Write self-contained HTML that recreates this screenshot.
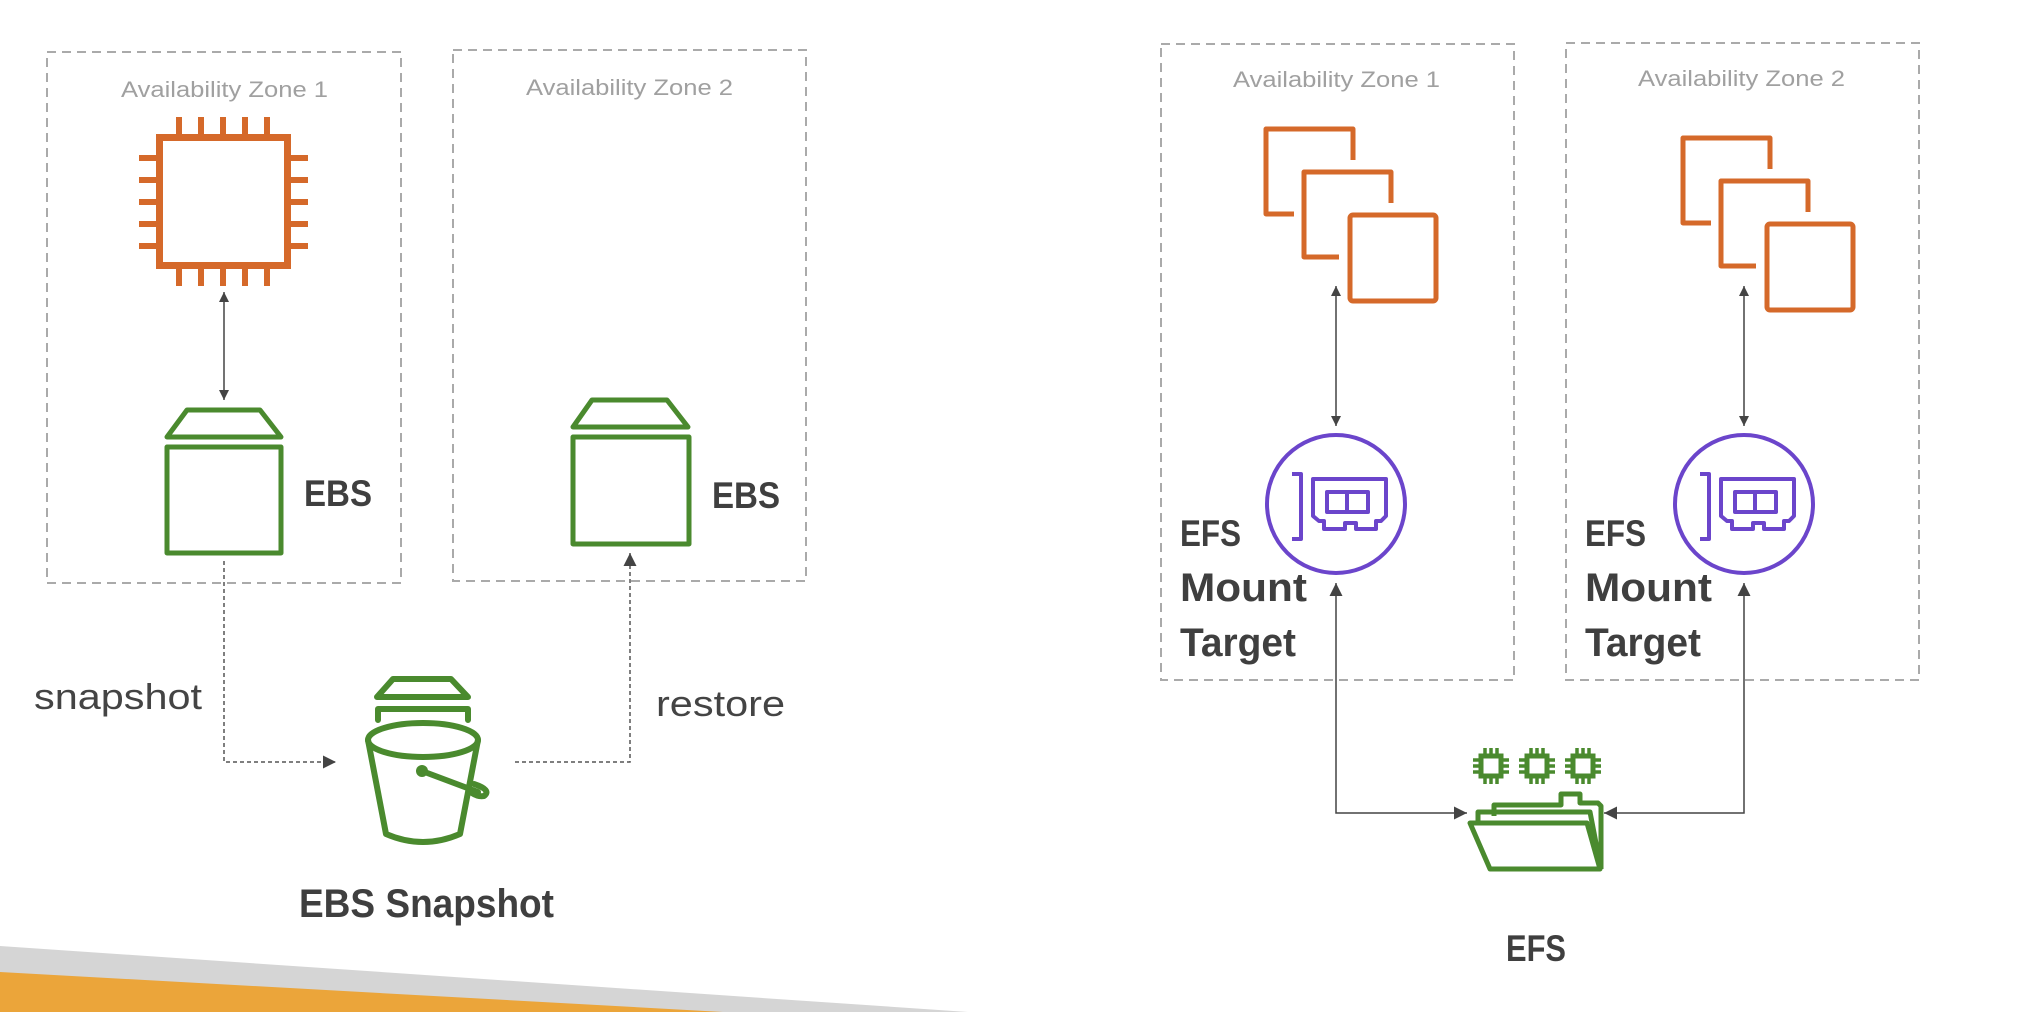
<!DOCTYPE html>
<html><head><meta charset="utf-8"><style>
html,body{margin:0;padding:0;background:#fff;}
svg{display:block;}
</style></head><body>
<svg width="2026" height="1012" viewBox="0 0 2026 1012" xmlns="http://www.w3.org/2000/svg">
<defs>
<marker id="ah" viewBox="0 0 10 10" refX="10" refY="5" markerWidth="10" markerHeight="10" markerUnits="userSpaceOnUse" orient="auto-start-reverse">
<path d="M0,0 L10,5 L0,10 z" fill="#444"/>
</marker>
<marker id="ah2" viewBox="0 0 10 10" refX="10" refY="5" markerWidth="13" markerHeight="13" markerUnits="userSpaceOnUse" orient="auto-start-reverse">
<path d="M0,0 L10,5 L0,10 z" fill="#444"/>
</marker>
</defs>

<polygon points="0,946 968,1012 0,1012" fill="#D5D5D5"/>
<polygon points="0,972 723,1012 0,1012" fill="#EBA53A"/>

<g fill="none" stroke="#AAAAAA" stroke-width="2" stroke-dasharray="9,6">
<rect x="47" y="52" width="354" height="531"/>
<rect x="453" y="50" width="353" height="531"/>
<rect x="1161" y="44" width="353" height="636"/>
<rect x="1566" y="43" width="353" height="637"/>
</g>

<g font-family="Liberation Sans, sans-serif" fill="#A0A0A0" font-size="22">
<text x="121" y="97" textLength="207" lengthAdjust="spacingAndGlyphs">Availability Zone 1</text>
<text x="526" y="95" textLength="207" lengthAdjust="spacingAndGlyphs">Availability Zone 2</text>
<text x="1233" y="87" textLength="207" lengthAdjust="spacingAndGlyphs">Availability Zone 1</text>
<text x="1638" y="86" textLength="207" lengthAdjust="spacingAndGlyphs">Availability Zone 2</text>
</g>

<g stroke="#D5692A" stroke-width="7" fill="none">
<rect x="159.5" y="137.5" width="128" height="128"/>
<path d="M179,117V137 M201,117V137 M223,117V137 M245,117V137 M267,117V137
M179,266V286 M201,266V286 M223,266V286 M245,266V286 M267,266V286
M139,158H159 M139,180H159 M139,202H159 M139,224H159 M139,246H159
M288,158H308 M288,180H308 M288,202H308 M288,224H308 M288,246H308" stroke-width="6"/>
</g>

<g stroke="#4A8A2E" stroke-width="5" fill="none" stroke-linejoin="round">
<path d="M187,410 H260 L281,437 H167 Z"/>
<rect x="167" y="447" width="114" height="106"/>
<path d="M592,400 H667 L688,427 H573 Z"/>
<rect x="573" y="437" width="116" height="107"/>
</g>

<g font-family="Liberation Sans, sans-serif" font-weight="bold" fill="#3F3F3F" font-size="40">
<text x="304" y="506" textLength="68" lengthAdjust="spacingAndGlyphs" font-size="37">EBS</text>
<text x="712" y="508" textLength="68" lengthAdjust="spacingAndGlyphs" font-size="37">EBS</text>
<text x="299" y="917" textLength="255" lengthAdjust="spacingAndGlyphs">EBS Snapshot</text>
<text x="1506" y="961" textLength="60" lengthAdjust="spacingAndGlyphs" font-size="37">EFS</text>
<text x="1180" y="546" textLength="61" lengthAdjust="spacingAndGlyphs" font-size="37">EFS</text>
<text x="1180" y="601" textLength="127" lengthAdjust="spacingAndGlyphs">Mount</text>
<text x="1180" y="656" textLength="116" lengthAdjust="spacingAndGlyphs">Target</text>
<text x="1585" y="546" textLength="61" lengthAdjust="spacingAndGlyphs" font-size="37">EFS</text>
<text x="1585" y="601" textLength="127" lengthAdjust="spacingAndGlyphs">Mount</text>
<text x="1585" y="656" textLength="116" lengthAdjust="spacingAndGlyphs">Target</text>
</g>
<g font-family="Liberation Sans, sans-serif" fill="#444" font-size="36">
<text x="34" y="709" textLength="168" lengthAdjust="spacingAndGlyphs">snapshot</text>
<text x="656" y="716" textLength="129" lengthAdjust="spacingAndGlyphs">restore</text>
</g>

<line x1="224" y1="292" x2="224" y2="400" stroke="#444" stroke-width="1.5" marker-start="url(#ah)" marker-end="url(#ah)"/>
<polyline points="224,561 224,762 336,762" fill="none" stroke="#555" stroke-width="1.5" stroke-dasharray="4,3" marker-end="url(#ah2)"/>
<polyline points="515,762 630,762 630,553" fill="none" stroke="#555" stroke-width="1.5" stroke-dasharray="4,3" marker-end="url(#ah2)"/>

<g stroke="#4A8A2E" stroke-width="6" fill="none" stroke-linejoin="round" stroke-linecap="round">
<path d="M393,679 H451 L468,697 H377 Z"/>
<path d="M378,720 V709 H468 V720"/>
<ellipse cx="423" cy="740" rx="55" ry="17"/>
<path d="M368,740 L386,834 Q423,850 460,834 L478,740"/>
<path d="M422,771 L478,792" />
<path d="M474,784 Q492,790 484,796 Q478,797 472,793"/>
</g>
<circle cx="422" cy="771" r="6" fill="#4A8A2E"/>

<g stroke="#D5692A" stroke-width="5" fill="none" stroke-linejoin="round">
<path d="M1353,160 V129 H1266 V214 H1294"/>
<path d="M1391,203 V172 H1304 V257 H1339"/>
<rect x="1350" y="215" width="86" height="86" rx="3"/>
<path d="M1770,169 V138 H1683 V223 H1711"/>
<path d="M1808,212 V181 H1721 V266 H1756"/>
<rect x="1767" y="224" width="86" height="86" rx="3"/>
</g>

<line x1="1336" y1="286" x2="1336" y2="426" stroke="#444" stroke-width="1.5" marker-start="url(#ah)" marker-end="url(#ah)"/>
<line x1="1744" y1="286" x2="1744" y2="426" stroke="#444" stroke-width="1.5" marker-start="url(#ah)" marker-end="url(#ah)"/>
<polyline points="1336,583 1336,813 1467,813" fill="none" stroke="#444" stroke-width="1.5" marker-start="url(#ah2)" marker-end="url(#ah2)"/>
<polyline points="1744,583 1744,813 1604,813" fill="none" stroke="#444" stroke-width="1.5" marker-start="url(#ah2)" marker-end="url(#ah2)"/>

<g id="mt" stroke="#6B45CB" stroke-width="4" fill="none" stroke-linejoin="round">
<circle cx="1336" cy="504" r="69"/>
<path d="M1292,474 H1301 V539 H1292"/>
<path d="M1313,479 H1386 V516 L1381,521 H1376 V529 H1356 V523 H1345 V529 H1324 V521 H1319 L1313,516 Z" stroke-width="4"/>
<rect x="1327" y="492" width="41" height="20"/>
<line x1="1347" y1="492" x2="1347" y2="512"/>
</g>
<use href="#mt" transform="translate(408,0)"/>

<g stroke="#4A8A2E" fill="none">
<g id="chip" stroke-width="5">
<rect x="1481" y="756" width="20" height="20"/>
<path d="M1485,748V756 M1491,748V756 M1497,748V756 M1485,776V784 M1491,776V784 M1497,776V784 M1473,760H1481 M1473,766H1481 M1473,772H1481 M1501,760H1509 M1501,766H1509 M1501,772H1509" stroke-width="3.5"/>
</g>
<use href="#chip" transform="translate(46,0)"/>
<use href="#chip" transform="translate(92,0)"/>
<g stroke-width="5" stroke-linejoin="round">
<path d="M1494,816 V805 H1561 V794 H1580 V803 H1598 L1601,806 V869"/>
<path d="M1478,821 V812 H1590 L1601,869"/>
<path d="M1470,823 H1587 L1600,869 H1490 Z"/>
</g>
</g>
</svg>
</body></html>
